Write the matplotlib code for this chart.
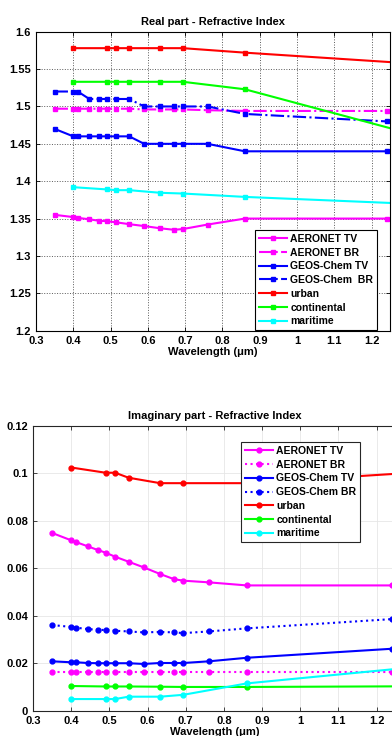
import numpy as np
import matplotlib
matplotlib.use("Agg")
import matplotlib.pyplot as plt
from matplotlib.ticker import FormatStrFormatter, MultipleLocator

plt.rcParams['font.family'] = ['Liberation Sans', 'DejaVu Sans']
plt.rcParams['font.weight'] = 'bold'

# Wavelengths (um)
wl_gc = [0.35, 0.4, 0.412, 0.443, 0.47, 0.49, 0.515, 0.55, 0.59, 0.633, 0.67, 0.694, 0.76, 0.86, 1.24]
wl_opac = [0.4, 0.49, 0.515, 0.55, 0.633, 0.694, 0.86, 1.63]

# Real part
aer_tv_real = [1.355, 1.352, 1.351, 1.349, 1.347, 1.3465, 1.345, 1.3425, 1.340, 1.337, 1.335, 1.336, 1.342, 1.350, 1.350]
aer_br_real = [1.497, 1.497, 1.497, 1.497, 1.497, 1.497, 1.497, 1.497, 1.496, 1.496, 1.496, 1.496, 1.495, 1.494, 1.494]
gc_tv_real = [1.47, 1.46, 1.46, 1.46, 1.46, 1.46, 1.46, 1.46, 1.45, 1.45, 1.45, 1.45, 1.45, 1.44, 1.44]
gc_br_real = [1.52, 1.52, 1.52, 1.51, 1.51, 1.51, 1.51, 1.51, 1.50, 1.50, 1.50, 1.50, 1.50, 1.49, 1.48]
urban_real = [1.578, 1.578, 1.578, 1.578, 1.578, 1.578, 1.572, 1.547]
cont_real = [1.533, 1.533, 1.533, 1.533, 1.533, 1.533, 1.523, 1.42]
mar_real = [1.392, 1.389, 1.388, 1.388, 1.3845, 1.3835, 1.379, 1.363]

# Imaginary part
aer_tv_imag = [0.0749, 0.0718, 0.0711, 0.0693, 0.0677, 0.0666, 0.0649, 0.0628, 0.0604, 0.0576, 0.0554, 0.0548, 0.0541, 0.0528, 0.0528]
aer_br_imag = [0.0164, 0.0164, 0.0164, 0.0164, 0.0164, 0.0164, 0.0164, 0.0164, 0.0164, 0.0164, 0.0164, 0.0164, 0.0164, 0.0164, 0.0164]
gc_tv_imag = [0.0208, 0.0204, 0.0204, 0.0201, 0.0200, 0.0200, 0.0200, 0.0200, 0.0197, 0.0201, 0.0201, 0.0201, 0.0208, 0.0223, 0.0261]
gc_br_imag = [0.0361, 0.0353, 0.0350, 0.0344, 0.0341, 0.0340, 0.0337, 0.0334, 0.0330, 0.0332, 0.0330, 0.0327, 0.0334, 0.0347, 0.0386]
urban_imag = [0.1025, 0.1003, 0.1003, 0.0982, 0.0959, 0.0959, 0.0959, 0.1037]
cont_imag = [0.0104, 0.0102, 0.0102, 0.0102, 0.0101, 0.0100, 0.0100, 0.0105]
mar_imag = [0.0049, 0.0049, 0.0049, 0.0059, 0.0059, 0.0067, 0.0115, 0.0235]

MAG, BLU, RED, GRN, CYA = '#ff00ff', '#0000ff', '#ff0000', '#00ff00', '#00ffff'

fig = plt.figure(figsize=(3.92, 7.36), dpi=100)


def style_axes(ax, spine_color):
    ax.set_xlim(0.3, 1.25)
    ax.xaxis.set_major_locator(MultipleLocator(0.1))
    ax.xaxis.set_major_formatter(FormatStrFormatter('%g'))
    ax.yaxis.set_major_formatter(FormatStrFormatter('%g'))
    ax.tick_params(direction='in', length=3, width=0.6, labelsize=8,
                   top=True, right=True, colors=spine_color, labelcolor='black')
    for s in ax.spines.values():
        s.set_color(spine_color)
        s.set_linewidth(0.8)
    for lab in ax.get_xticklabels() + ax.get_yticklabels():
        lab.set_fontweight('bold')
    ax.set_xlabel('Wavelength (\u03bcm)', fontsize=8, fontweight='bold', labelpad=1)


def add_legend(ax, loc, anchor, edge):
    leg = ax.legend(loc=loc, bbox_to_anchor=anchor,
                    bbox_transform=fig.transFigure, borderaxespad=0,
                    prop={'size': 7.5, 'weight': 'bold'}, fancybox=False,
                    edgecolor=edge, framealpha=1, handlelength=2.7,
                    handletextpad=0.35, labelspacing=0.36, borderpad=0.35)
    leg.get_frame().set_linewidth(0.8)
    return leg


lw = 1.5

# ---- Real part ----
ax1 = fig.add_axes([0.0918, 0.5507, 0.904, 0.4062])
ms = 3.5
ax1.plot(wl_gc, aer_tv_real, '-s', color=MAG, lw=lw, ms=ms, label='AERONET TV')
ax1.plot(wl_gc, aer_br_real, '-.s', color=MAG, lw=lw, ms=ms, label='AERONET BR')
ax1.plot(wl_gc, gc_tv_real, '-s', color=BLU, lw=lw, ms=ms, label='GEOS-Chem TV')
ax1.plot(wl_gc, gc_br_real, '-.s', color=BLU, lw=lw, ms=ms, label='GEOS-Chem  BR')
ax1.plot(wl_opac, urban_real, '-s', color=RED, lw=lw, ms=ms, label='urban')
ax1.plot(wl_opac, cont_real, '-s', color=GRN, lw=lw, ms=ms, label='continental')
ax1.plot(wl_opac, mar_real, '-s', color=CYA, lw=lw, ms=ms, label='maritime')
ax1.set_ylim(1.2, 1.6)
ax1.yaxis.set_major_locator(MultipleLocator(0.05))
ax1.grid(True, linestyle=':', color='0.35', linewidth=0.7)
style_axes(ax1, 'black')
ax1.set_title('Real part - Refractive Index', fontsize=8, fontweight='bold', pad=5)
add_legend(ax1, 'lower left', (0.6505, 0.5516), 'black')

# ---- Imaginary part ----
ax2 = fig.add_axes([0.0844, 0.0344, 0.925, 0.3868])
ms2 = 3.5
ax2.plot(wl_gc, aer_tv_imag, '-o', color=MAG, lw=lw, ms=ms2, label='AERONET TV')
ax2.plot(wl_gc, aer_br_imag, ':o', color=MAG, lw=lw, ms=ms2, label='AERONET BR')
ax2.plot(wl_gc, gc_tv_imag, '-o', color=BLU, lw=lw, ms=ms2, label='GEOS-Chem TV')
ax2.plot(wl_gc, gc_br_imag, ':o', color=BLU, lw=lw, ms=ms2, label='GEOS-Chem BR')
ax2.plot(wl_opac, urban_imag, '-o', color=RED, lw=lw, ms=ms2, label='urban')
ax2.plot(wl_opac, cont_imag, '-o', color=GRN, lw=lw, ms=ms2, label='continental')
ax2.plot(wl_opac, mar_imag, '-o', color=CYA, lw=lw, ms=ms2, label='maritime')
ax2.set_ylim(0, 0.12)
ax2.yaxis.set_major_locator(MultipleLocator(0.02))
ax2.grid(True, linestyle='-', color='0.9', linewidth=0.6)
style_axes(ax2, '0.15')
ax2.set_title('Imaginary part - Refractive Index', fontsize=8, fontweight='bold', pad=5)
add_legend(ax2, 'upper left', (0.6148, 0.399), '0.15')

fig.savefig('out.png', dpi=100)
